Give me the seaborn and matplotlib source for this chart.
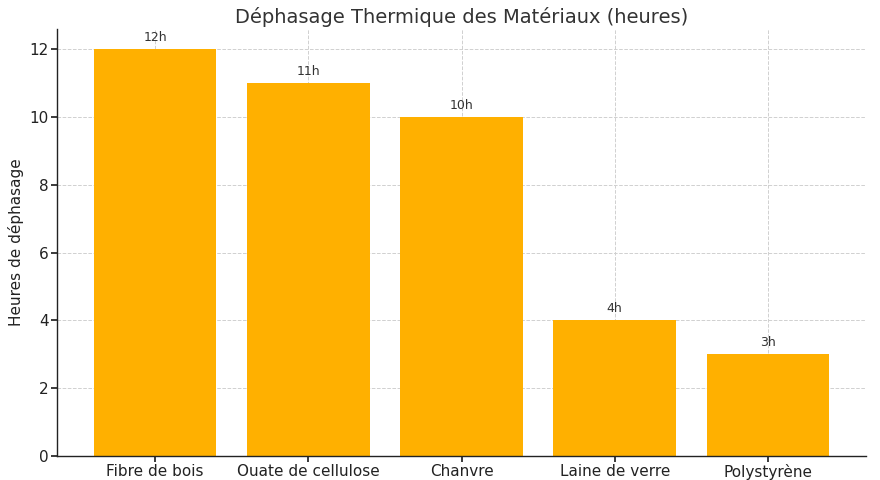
import matplotlib
matplotlib.use("agg")
import matplotlib.pyplot as plt
import seaborn as sns
import pandas as pd

# Data
materials = ["Fibre de bois", "Ouate de cellulose", "Chanvre", "Laine de verre", "Polystyrène"]
hours = [12, 11, 10, 4, 3]
bar_color = "#FFB000"

sns.set_theme(style="whitegrid")
plt.rcParams["font.family"] = ["DejaVu Sans"]

df = pd.DataFrame({"Matériau": materials, "Heures": hours})

fig = plt.figure(figsize=(8.8, 4.8), dpi=100)
ax = fig.add_axes([0.065, 0.05, 0.919, 0.89])

sns.barplot(data=df, x="Matériau", y="Heures", color=bar_color, saturation=1,
            width=0.8, linewidth=0, ax=ax)

for patch, h in zip(ax.patches, hours):
    ax.text(patch.get_x() + patch.get_width() / 2, h + 0.15, f"{h}h",
            ha="center", va="bottom", fontsize=9, color="#333333")

ax.set_title("Déphasage Thermique des Matériaux (heures)", fontsize=14,
             color="#333333", pad=4)
ax.set_xlabel("")
ax.set_ylabel("Heures de déphasage", fontsize=11, color="#222222")
ax.set_xlim(-0.64, len(materials) - 1 + 0.64)
ax.set_ylim(0, 12.6)
ax.set_yticks([0, 2, 4, 6, 8, 10, 12])
ax.tick_params(axis="both", labelsize=11, colors="#222222", length=4, pad=2)
ax.tick_params(axis="x", bottom=True)
ax.tick_params(axis="y", left=True)

ax.grid(True, linestyle="--", linewidth=0.7, color="#d0d0d0")
ax.set_axisbelow(True)
for side in ["top", "right"]:
    ax.spines[side].set_visible(False)
for side in ["left", "bottom"]:
    ax.spines[side].set_color("#222222")
    ax.spines[side].set_linewidth(1.0)

fig.savefig("out.png", dpi=100)
plt.close(fig)
